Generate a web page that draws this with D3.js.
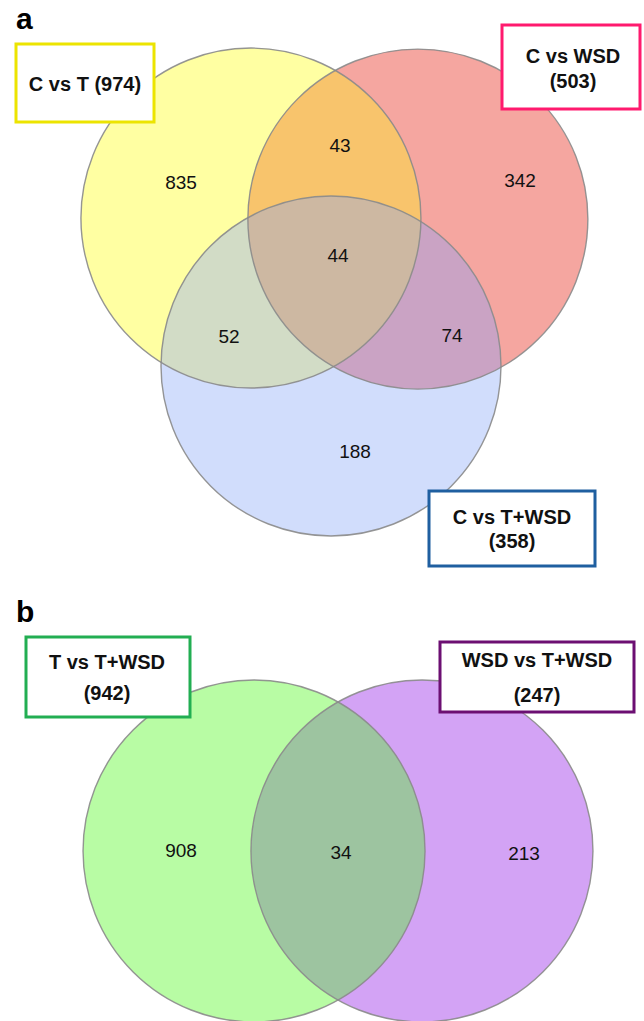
<!DOCTYPE html>
<html><head><meta charset="utf-8">
<script src="https://cdn.jsdelivr.net/npm/d3@7"></script>
<style>
html,body{margin:0;padding:0;background:#fff;}
svg{display:block;font-family:"Liberation Sans",Arial,Helvetica,sans-serif;}
</style></head>
<body>
<svg id="c" width="644" height="1021"></svg>
<script>
// ---- data ----
const panelLetters = ["a", "b"];
const setsA = ["C vs T", "C vs WSD", "C vs T+WSD"];
const totalsA = [974, 503, 358];
// region keys: sets involved -> count
const regionKeysA = ["0", "1", "2", "01", "02", "12", "012"];
const regionValuesA = [835, 342, 188, 43, 52, 74, 44];

const setsB = ["T vs T+WSD", "WSD vs T+WSD"];
const totalsB = [942, 247];
const regionKeysB = ["0", "1", "01"];
const regionValuesB = [908, 213, 34];

// ---- layout / styles ----
const svg = d3.select("#c");
const defs = svg.append("defs");
const strokeCol = "#8a8a8a";

// layout in radius units, mapped via scales
const layoutA = {
  x: d3.scaleLinear().domain([0, 1]).range([331, 501]),
  y: d3.scaleLinear().domain([0, 1]).range([300, 470]),
  r: 170,
  centers: [[-0.471, -0.482], [0.511, -0.476], [0, 0.388]],
  fills: {"0": "#ffffa2", "1": "#f5a6a0", "2": "#d1ddfc", "01": "#f8c46c", "02": "#d2dcc6", "12": "#caa3c4", "012": "#cdb8a2"},
  labelPos: {"0": [181, 182], "1": [520, 180], "2": [355, 451], "01": [340, 145], "02": [229, 336], "12": [452, 335], "012": [338, 255]},
  boxes: [
    {x: 16, y: 44, w: 138, h: 78, col: "#ece400", lines: [setsA[0] + " (" + totalsA[0] + ")"], cx: 85, ly: [84]},
    {x: 502, y: 25, w: 138, h: 84, col: "#ff1a6e", lines: [setsA[1], "(" + totalsA[1] + ")"], cx: 573, ly: [56, 81]},
    {x: 429, y: 491, w: 166, h: 75, col: "#1f5fa0", lines: [setsA[2], "(" + totalsA[2] + ")"], cx: 512, ly: [517, 541]}
  ]
};
const layoutB = {
  x: d3.scaleLinear().domain([0, 1]).range([338, 509]),
  y: d3.scaleLinear().domain([0, 1]).range([851, 1022]),
  r: 171,
  centers: [[-0.491, 0], [0.491, 0]],
  fills: {"0": "#b8fca4", "1": "#d3a3f5", "01": "#9dc4a0"},
  labelPos: {"0": [181, 850], "1": [524, 853], "01": [341, 852]},
  boxes: [
    {x: 26, y: 637, w: 164, h: 80, col: "#22ae52", lines: [setsB[0], "(" + totalsB[0] + ")"], cx: 107, ly: [662, 693]},
    {x: 440, y: 642, w: 194, h: 70, col: "#6c0f72", lines: [setsB[1], "(" + totalsB[1] + ")"], cx: 537, ly: [660, 695]}
  ]
};

function drawVenn(id, L, keys, values) {
  const g = svg.append("g");
  const circ = L.centers.map(c => ({cx: L.x(c[0]), cy: L.y(c[1]), r: L.r}));
  circ.forEach((c, i) => {
    defs.append("clipPath").attr("id", id + "clip" + i)
      .append("circle").attr("cx", c.cx).attr("cy", c.cy).attr("r", c.r);
  });
  // draw regions: each key -> intersection of involved circles (drawn in order single -> pair -> triple)
  const allKeys = Object.keys(L.fills).sort((a, b) => a.length - b.length);
  allKeys.forEach(k => {
    const idx = k.split("").map(Number);
    let parent = g;
    for (let j = 1; j < idx.length; j++) {
      parent = parent.append("g").attr("clip-path", `url(#${id}clip${idx[j]})`);
    }
    const c = circ[idx[0]];
    parent.append("circle").attr("cx", c.cx).attr("cy", c.cy).attr("r", c.r)
      .attr("fill", L.fills[k]);
  });
  // outlines
  g.selectAll("circle.o").data(circ).join("circle").attr("class", "o")
    .attr("cx", d => d.cx).attr("cy", d => d.cy).attr("r", d => d.r)
    .attr("fill", "none").attr("stroke", strokeCol).attr("stroke-width", 1.4).attr("stroke-opacity", 0.9);
  // counts
  keys.forEach((k, i) => {
    const p = L.labelPos[k];
    g.append("text").attr("x", p[0]).attr("y", p[1]).attr("text-anchor", "middle")
      .attr("dominant-baseline", "central").attr("font-size", 19).attr("fill", "#111")
      .text(values[i]);
  });
  // boxes
  L.boxes.forEach(b => {
    g.append("rect").attr("x", b.x).attr("y", b.y).attr("width", b.w).attr("height", b.h)
      .attr("fill", "#fff").attr("stroke", b.col).attr("stroke-width", 3);
    b.lines.forEach((t, j) => {
      g.append("text").attr("x", b.cx).attr("y", b.ly[j]).attr("text-anchor", "middle")
        .attr("dominant-baseline", "central").attr("font-size", 20).attr("font-weight", "bold")
        .attr("fill", "#111").text(t);
    });
  });
}

drawVenn("A", layoutA, regionKeysA, regionValuesA);
drawVenn("B", layoutB, regionKeysB, regionValuesB);

// panel letters
svg.append("text").attr("x", 16).attr("y", 29).attr("font-size", 30).attr("font-weight", "bold").text(panelLetters[0]);
svg.append("text").attr("x", 16).attr("y", 622).attr("font-size", 30).attr("font-weight", "bold").text(panelLetters[1]);
</script>
</body></html>
